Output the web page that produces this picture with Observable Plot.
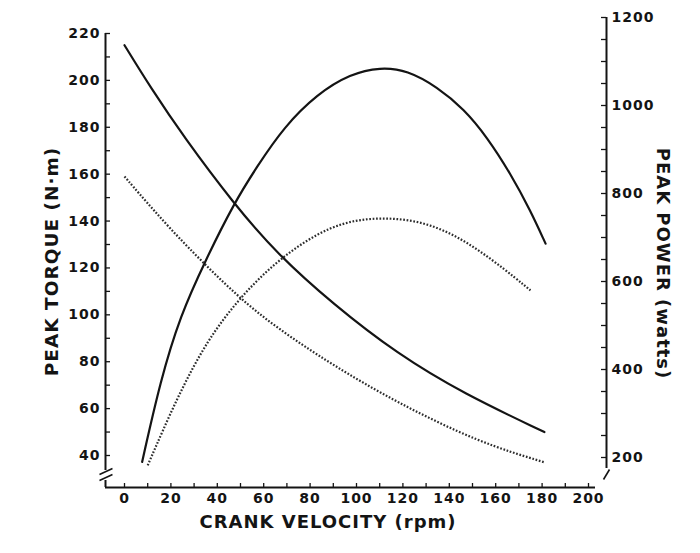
<!DOCTYPE html>
<html><head><meta charset="utf-8">
<script src="https://cdn.jsdelivr.net/npm/d3@7"></script>
<script src="https://cdn.jsdelivr.net/npm/@observablehq/plot@0.6"></script>
<style>
body{margin:0;background:#fff;}
#chart{width:700px;height:553px;}
#chart svg text{letter-spacing:1px;}
#chart g[aria-label="title"] text{letter-spacing:0.6px;}
</style></head><body><div id="chart"></div>
<script>
// ---- data ----
const rpmTorqueSolid   = [0, 11.2, 25.6, 47.1, 65.8, 90, 117.5, 146.3, 181];
const torqueSolid      = [215, 197, 175.8, 147.4, 126, 104.5, 83.4, 66.3, 50];
const rpmTorqueDotted  = [0, 12.6, 27, 49, 66, 89, 117.5, 153, 181];
const torqueDotted     = [159, 144.5, 129, 107.5, 94.2, 79, 62.5, 45.5, 37.1];
const rpmPowerSolid    = [7.6, 15.5, 24, 34.9, 47.1, 57.2, 68.7, 83, 97.4, 110.3, 121.9, 134.8, 146.3, 156.3, 166.4, 175, 181.5];
const powerSolid       = [190, 375, 522, 648, 777, 862, 951, 1026, 1072, 1087, 1080, 1042, 992, 928, 845, 761, 686];
const rpmPowerDotted   = [10, 22.7, 35.6, 49.3, 66, 89, 110, 132, 153, 175];
const powerDotted      = [182, 337, 466, 561, 650, 731, 748, 735, 674, 580];

const xTickLabels      = [0, 20, 40, 60, 80, 100, 120, 140, 160, 180, 200];
const torqueTickLabels = [40, 60, 80, 100, 120, 140, 160, 180, 200, 220];
const powerTickLabels  = [200, 400, 600, 800, 1000, 1200];
const xMinorTicks      = d3.range(0, 201, 10);
const torqueMinorTicks = d3.range(40, 221, 10);
const powerMinorTicks  = d3.range(200, 1201, 50);

const xTitle = "CRANK VELOCITY (rpm)";
const yLeftTitle = "PEAK TORQUE (N·m)";
const yRightTitle = "PEAK POWER (watts)";

// ---- layout ----
const W = 700, H = 553;
const ML = 105, MR = 94, MT = 17, MB = 66;
const X_RANGE = [124, 588];
const Y_RANGE = [455, 33];
const P_RANGE = [457, 17];
const xS = d3.scaleLinear([0, 200], X_RANGE);
const yT = d3.scaleLinear([40, 220], Y_RANGE);
const yP = d3.scaleLinear([200, 1200], P_RANGE);
const pToT = p => yT.invert(yP(p));
const tToP = t => yP.invert(yT(t));
const rx = px => xS.invert(px);   // pixel -> rpm (decoration only)
const ry = py => yT.invert(py);   // pixel -> torque units (decoration only)

const INK = "#141414";
const DOT = "#2e2e2e";
const build = (xs, ys, f = v => v) => xs.map((r, i) => ({rpm: r, v: f(ys[i])}));
const dTS = build(rpmTorqueSolid, torqueSolid);
const dTD = build(rpmTorqueDotted, torqueDotted);
const dPS = build(rpmPowerSolid, powerSolid, pToT);
const dPD = build(rpmPowerDotted, powerDotted, pToT);

const leftX = rx(ML), rightX = rx(W - MR), bottomY = ry(H - MB);

const chart = Plot.plot({
  width: W, height: H,
  marginLeft: ML, marginRight: MR, marginTop: MT, marginBottom: MB,
  x: {domain: [0, 200], range: X_RANGE},
  y: {domain: [40, 220], range: Y_RANGE},
  style: {fontFamily: "DejaVu Sans, sans-serif", fontWeight: "bold", color: INK, background: "#fff", overflow: "visible"},
  marks: [
    // axis lines
    Plot.ruleX([leftX], {y1: 220, y2: ry(470), stroke: INK, strokeWidth: 2}),
    Plot.ruleX([leftX], {y1: ry(480), y2: bottomY, stroke: INK, strokeWidth: 2}),
    Plot.ruleY([bottomY], {x1: leftX, x2: rx(595), stroke: INK, strokeWidth: 2}),
    Plot.ruleX([rightX], {y1: pToT(1200), y2: ry(468), stroke: INK, strokeWidth: 2}),
    // axis break marks
    Plot.link([{a: 474, b: 468}, {a: 480, b: 474}], {x1: rx(99), x2: rx(112), y1: d => ry(d.a), y2: d => ry(d.b), stroke: INK, strokeWidth: 1.6}),
    Plot.link([{a: 479, b: 469}], {x1: rx(603), x2: rx(609), y1: d => ry(d.a), y2: d => ry(d.b), stroke: INK, strokeWidth: 1.6}),
    // ticks
    Plot.ruleY(torqueMinorTicks, {y: d => d, x1: leftX, x2: rx(ML + 5), stroke: INK, strokeWidth: 1.3}),
    Plot.ruleY(powerMinorTicks, {y: d => pToT(d), x1: rx(W - MR - 5), x2: rightX, stroke: INK, strokeWidth: 1.3}),
    Plot.ruleX(xMinorTicks, {x: d => d, y1: bottomY, y2: ry(H - MB - 4), stroke: INK, strokeWidth: 1.3}),
    // tick labels
    Plot.axisY(torqueTickLabels, {anchor: "left", tickSize: 0, tickPadding: 5, label: null, fontSize: 14, fill: INK}),
    Plot.axisY(powerTickLabels.map(pToT), {anchor: "right", tickSize: 0, tickPadding: 5, label: null, fontSize: 14, fill: INK,
      tickFormat: t => String(Math.round(tToP(t)))}),
    Plot.axisX(xTickLabels, {anchor: "bottom", tickSize: 0, tickPadding: 6, label: null, fontSize: 14, fill: INK}),
    // titles
    Plot.text([yLeftTitle], {frameAnchor: "left", textAnchor: "middle", rotate: -90, dx: -53, dy: 9, fontSize: 18.5, fill: INK, ariaLabel: "title"}),
    Plot.text([yRightTitle], {frameAnchor: "right", textAnchor: "middle", rotate: 90, dx: 56, dy: 11, fontSize: 18, fill: INK, ariaLabel: "title"}),
    Plot.text([xTitle], {frameAnchor: "bottom", textAnchor: "middle", dx: -28, dy: 40, fontSize: 18, fill: INK, ariaLabel: "title"}),
    // curves
    Plot.line(dTS, {x: "rpm", y: "v", curve: "basis", stroke: INK, strokeWidth: 2.2}),
    Plot.line(dPS, {x: "rpm", y: "v", curve: "basis", stroke: INK, strokeWidth: 2.2}),
    Plot.line(dTD, {x: "rpm", y: "v", curve: "basis", stroke: DOT, strokeWidth: 2.2, strokeLinecap: "butt", strokeDasharray: "1.7 1.7"}),
    Plot.line(dPD, {x: "rpm", y: "v", curve: "basis", stroke: DOT, strokeWidth: 2.2, strokeLinecap: "butt", strokeDasharray: "1.7 1.7"})
  ]
});
document.getElementById("chart").appendChild(chart);
</script>
</body></html>
